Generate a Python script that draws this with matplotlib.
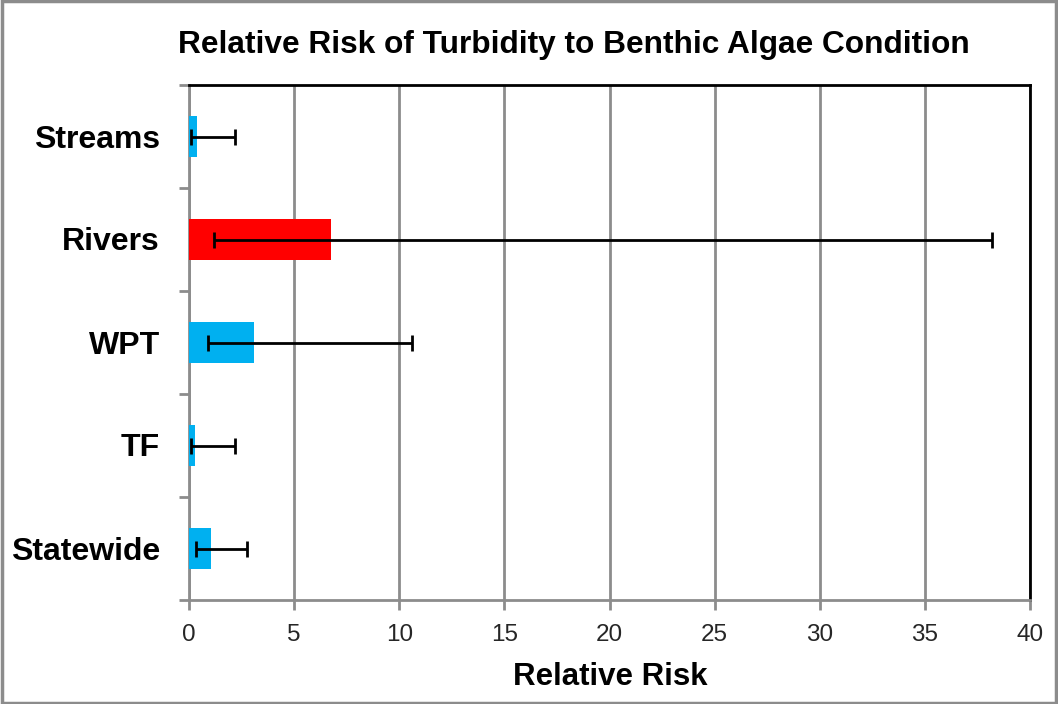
import matplotlib
matplotlib.use("Agg")
import matplotlib.pyplot as plt
from matplotlib.patches import Rectangle
from matplotlib.transforms import offset_copy

categories = ["Streams", "Rivers", "WPT", "TF", "Statewide"]
relative_risk = [0.40, 6.76, 3.10, 0.29, 1.03]
ci_lower = [0.10, 1.20, 0.92, 0.10, 0.33]
ci_upper = [2.19, 38.2, 10.6, 2.19, 2.75]
bar_colors = ["#00b0f0", "#ff0000", "#00b0f0", "#00b0f0", "#00b0f0"]
x_ticks = [0, 5, 10, 15, 20, 25, 30, 35, 40]

plt.rcParams['font.family'] = ['Liberation Sans', 'DejaVu Sans']

fig = plt.figure(figsize=(10.58, 7.04), dpi=100)
ax = fig.add_axes([189/1058, 1 - 600/704, (1030-189)/1058, (600-85)/704])

n = len(categories)
ypos = list(range(n))[::-1]  # Streams at top
xerr = [[v - lo for v, lo in zip(relative_risk, ci_lower)],
        [hi - v for v, hi in zip(relative_risk, ci_upper)]]
ax.barh(ypos, relative_risk, height=0.4, color=bar_colors, zorder=3)
ax.errorbar(relative_risk, ypos, xerr=xerr, fmt='none', ecolor='black',
            elinewidth=2, capsize=6, capthick=2, zorder=4)

ax.set_xlim(0, 40)
ax.set_ylim(-0.5, n - 0.5)
ax.set_xticks(x_ticks)
ax.set_xticklabels([str(t) for t in x_ticks], fontsize=17.5, color='#262626')
ax.set_yticks([i + 0.5 for i in range(-1, n)])
ax.set_yticklabels([])
lab_tr = offset_copy(ax.get_yaxis_transform(), fig=fig, x=0, y=-3, units='dots')
for y, c in zip(ypos, categories):
    ax.text(-29/841, y, c, transform=lab_tr, ha='right', va='center',
            fontsize=23, fontweight='bold')
ax.tick_params(axis='both', direction='out', length=7, width=2, color='#8c8c8c')
ax.tick_params(axis='x', pad=10)
ax.grid(axis='x', color='#8c8c8c', linewidth=2, zorder=0)
ax.set_axisbelow(True)
for s in ['left', 'bottom']:
    ax.spines[s].set_color('#8c8c8c')
    ax.spines[s].set_linewidth(2)
for s in ['top', 'right']:
    ax.spines[s].set_color('black')
    ax.spines[s].set_linewidth(2)

fig.text(610/1058, 1 - 677/704, "Relative Risk", ha='center', va='center',
         fontsize=22.5, fontweight='bold')
fig.text(574/1058, 1 - 45/704, "Relative Risk of Turbidity to Benthic Algae Condition",
         ha='center', va='center', fontsize=22.8, fontweight='bold')

fig.patches.append(Rectangle((0.002, 0.002), 0.996, 0.996, transform=fig.transFigure,
                             fill=False, edgecolor='#8c8c8c', linewidth=2.5))

fig.savefig("out.png", dpi=100)
